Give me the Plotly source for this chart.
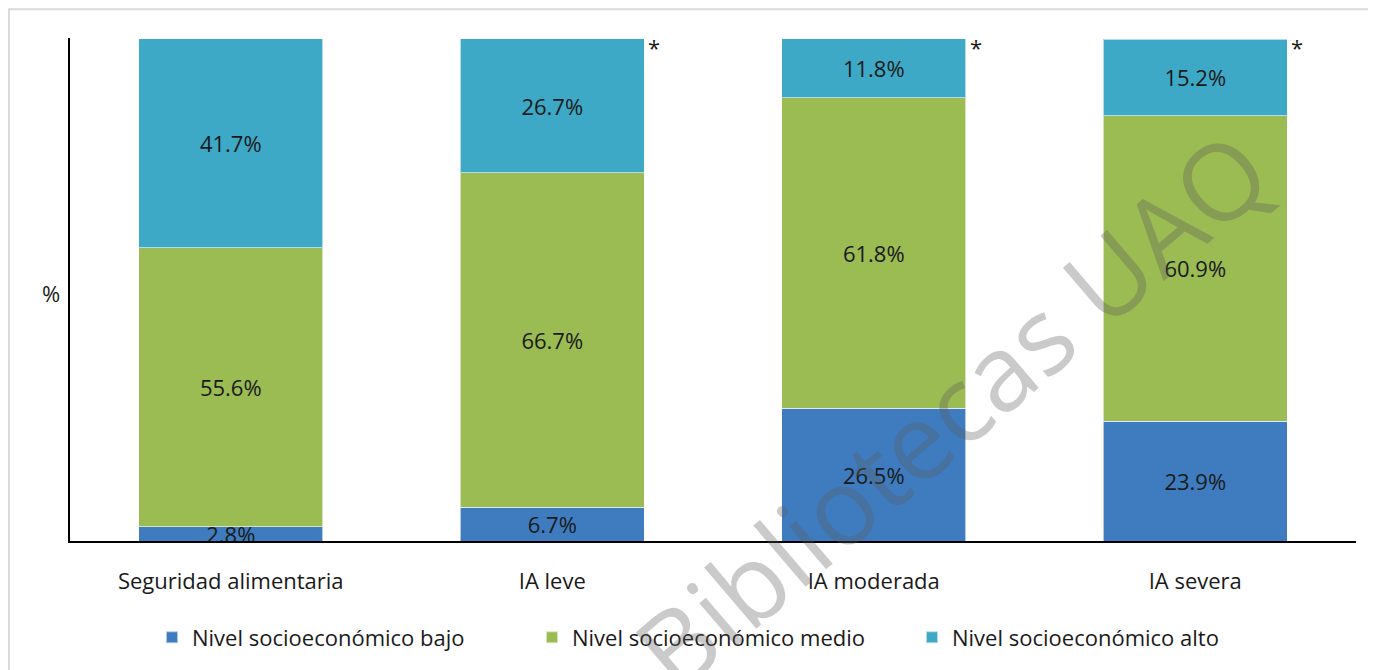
import plotly.graph_objects as go

categories = ["Seguridad alimentaria", "IA leve", "IA moderada", "IA severa"]
bajo = [2.8, 6.7, 26.5, 23.9]
medio = [55.6, 66.7, 61.8, 60.9]
alto = [41.7, 26.7, 11.8, 15.2]
series_names = ["Nivel socioeconómico bajo", "Nivel socioeconómico medio", "Nivel socioeconómico alto"]
colors = ["#3E7CBF", "#9BBB53", "#3DA9C6"]
significant = [False, True, True, True]

FONT = "Open Sans"
FS = 22

fig = go.Figure()
for name, vals, col in zip(series_names, [bajo, medio, alto], colors):
    fig.add_trace(go.Bar(
        x=categories, y=vals, name=name,
        marker=dict(color=col, line=dict(color="rgba(255,255,255,0.6)", width=1)),
        text=[f"{v:.1f}%" for v in vals],
        textposition="inside", insidetextanchor="middle",
        textfont=dict(color="#1a1a1a", size=FS, family=FONT),
        cliponaxis=False,
    ))

for cat, s, a, b, c in zip(categories, significant, bajo, medio, alto):
    if s:
        fig.add_annotation(x=cat, y=min(a + b + c, 100.0), xref="x", yref="y", text="*",
                           showarrow=False, xshift=102, yshift=-8, yanchor="middle",
                           font=dict(size=FS, color="#1a1a1a", family=FONT))

fig.add_annotation(x=-0.006, y=0.494, xref="paper", yref="paper", text="%",
                   showarrow=False, xanchor="right", yanchor="middle",
                   font=dict(size=FS, color="#1a1a1a", family=FONT))

# watermark
fig.add_annotation(x=0.685, y=0.262, xref="paper", yref="paper", text="Bibliotecas UAQ",
                   showarrow=False, textangle=-40.5, xanchor="center", yanchor="middle",
                   font=dict(size=106, color="rgba(90,90,90,0.32)", family=FONT))

# outer border
fig.add_shape(type="rect", xref="paper", yref="paper", x0=-0.0475, x1=1.2, y0=-0.5, y1=1.057,
              line=dict(color="#d9d9d9", width=2), fillcolor="rgba(0,0,0,0)", layer="below")

fig.update_layout(
    barmode="stack", bargap=0.428,
    width=1368, height=662,
    margin=dict(l=62, r=20, t=30, b=124),
    plot_bgcolor="white", paper_bgcolor="white",
    font=dict(family=FONT, size=FS, color="#1a1a1a"),
    uniformtext=dict(minsize=FS, mode="show"),
    showlegend=True,
    legend=dict(orientation="h", x=0.507, xanchor="center", y=-0.15, yanchor="top",
                font=dict(size=FS, family=FONT), itemsizing="constant",
                traceorder="normal", itemwidth=30, entrywidth=335),
    xaxis=dict(showline=True, linecolor="black", linewidth=2, ticks="", showgrid=False,
               tickfont=dict(size=FS, family=FONT), ticklabelstandoff=20),
    yaxis=dict(range=[0, 100.25], showline=True, linecolor="black", linewidth=2,
               showticklabels=False, ticks="", showgrid=False, zeroline=False),
)

fig.write_html("out.html")
